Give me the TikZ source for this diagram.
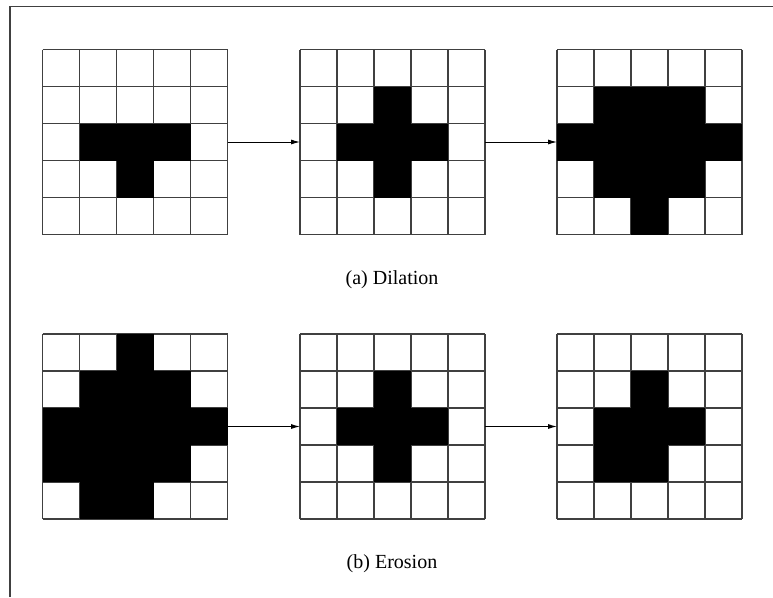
\documentclass[tikz,border=0pt]{standalone}
\usepackage{fontspec}
\setmainfont{Liberation Serif}
\usepackage{tikz}
\usetikzlibrary{arrows.meta,positioning}

\tikzset{
  gridbox/.style={minimum width=185pt, minimum height=185pt, inner sep=0pt, outer sep=0pt},
  gridline/.style={line width=1.2pt, black!75},
  pix/.style={fill=black},
  caption/.style={font=\rmfamily\fontsize{20}{23}\selectfont},
}

% 5x5 binary image: name, left, top, black cells row/col
\newcommand{\bitgrid}[4]{%
  \node[gridbox] (#1) at (#2+92.5,#3+92.5) {};
  \foreach \i in {0,...,5} {
    \draw[gridline] ([xshift=\i*37pt]#1.north west) -- ([xshift=\i*37pt]#1.south west);
    \draw[gridline] ([yshift=-\i*37pt]#1.north west) -- ([yshift=-\i*37pt]#1.north east);
  }
  \foreach \r/\c in {#4}
    \fill[pix] ([shift={(\c*37,\r*37)}]#1.north west) rectangle ++(37,37);
}

\begin{document}
\begin{tikzpicture}[x=1pt, y=-1pt, >={Latex[length=9pt,width=5pt]}]
    \useasboundingbox (0,0) rectangle (773,597);
    \draw[line width=1.2pt, black!75] (10,597) -- (10,6.5) -- (773,6.5);

    % dilation
    \bitgrid{d1}{42.5}{49.5}{2/1,2/2,2/3,3/2}
    \bitgrid{d2}{300}{49.5}{1/2,2/1,2/2,2/3,3/2}
    \bitgrid{d3}{557}{49.5}{1/1,1/2,1/3,2/0,2/1,2/2,2/3,2/4,3/1,3/2,3/3,4/2}
    \draw[->, line width=1pt] (d1.east) -- (d2.west);
    \draw[->, line width=1pt] (d2.east) -- (d3.west);
    \node[caption] (dil) at (392,280) {(a) Dilation};

    % erosion
    \bitgrid{e1}{42.5}{334}{0/2,1/1,1/2,1/3,2/0,2/1,2/2,2/3,2/4,3/0,3/1,3/2,3/3,4/1,4/2}
    \bitgrid{e2}{300}{334}{1/2,2/1,2/2,2/3,3/2}
    \bitgrid{e3}{557}{334}{1/2,2/1,2/2,2/3,3/1,3/2}
    \draw[->, line width=1pt] (e1.east) -- (e2.west);
    \draw[->, line width=1pt] (e2.east) -- (e3.west);
    \node[caption] (ero) at (392,564) {(b) Erosion};
\end{tikzpicture}
\end{document}
